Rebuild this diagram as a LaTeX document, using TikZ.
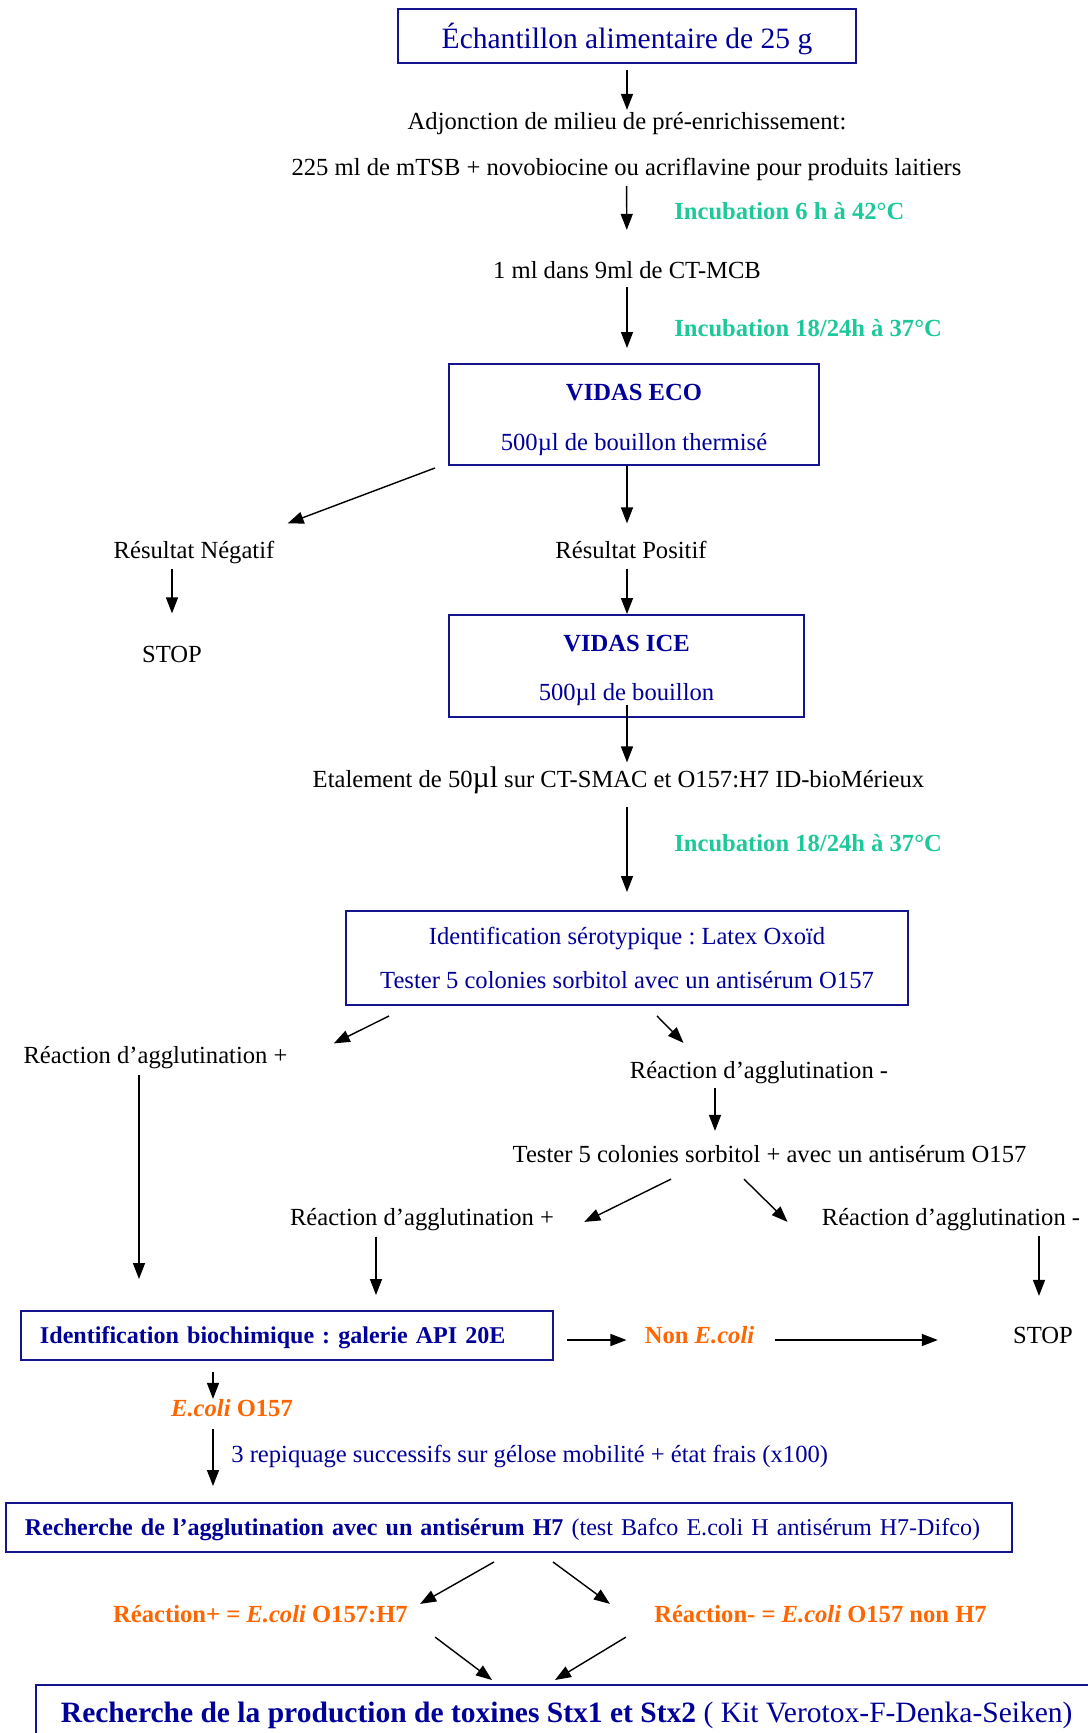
\documentclass[tikz,border=0pt]{standalone}
\usepackage{fontspec}
\setmainfont{Liberation Serif}
\usetikzlibrary{arrows.meta, calc}
\definecolor{navytext}{HTML}{000099}
\definecolor{boxblue}{HTML}{14148F}
\definecolor{incgreen}{HTML}{1DC99A}
\definecolor{ecoliorange}{HTML}{FF6600}

\begin{document}
\frenchspacing
\begin{tikzpicture}[
  every node/.style={font=\fontsize{14}{17}\selectfont},
  arrow/.style={-{Triangle[length=0.32cm, width=0.24cm]}, line width=0.8pt},
  lbl/.style={inner sep=0pt, text height=0.385cm, text depth=0.065cm},
  incub/.style={lbl, anchor=west, text=incgreen, font=\fontsize{14}{17}\selectfont\bfseries},
  result/.style={lbl, text=ecoliorange, font=\fontsize{14}{17}\selectfont\bfseries},
  stepbox/.style={draw=boxblue, line width=1.1pt, text=navytext, align=center, inner sep=0pt},
  widebox/.style={draw=boxblue, line width=1.1pt, text=navytext, align=left,
                  inner xsep=0.38cm, inner ysep=0pt, minimum height=0.98cm,
                  text height=0.385cm, text depth=0.065cm, font=\fontsize{13.7}{17}\selectfont},
]
  \path[use as bounding box, fill=white] (0,0) rectangle (21.76,-34.66);

  % Enrichment
  \node[stepbox, minimum width=9.16cm, minimum height=1.08cm, text height=0.61cm, text depth=0.13cm,
        font=\fontsize{16.8}{20}\selectfont]
    (sample) at (12.54,-0.72) {Échantillon alimentaire de 25 g};
  \node[lbl] (adj) at (12.54,-2.43) {Adjonction de milieu de pré-enrichissement:};
  \node[lbl] (mtsb) at (12.53,-3.34) {225 ml de mTSB + novobiocine ou acriflavine pour produits laitiers};
  \node[incub] (inc1) at (13.48,-4.22) {Incubation 6 h à 42°C};
  \node[lbl] (ctmcb) at (12.54,-5.40) {1 ml dans 9ml de CT-MCB};
  \node[incub] (inc2) at (13.48,-6.57) {Incubation 18/24h à 37°C};

  % VIDAS
  \node[stepbox, minimum width=7.40cm, minimum height=2.02cm, text height=1.563cm, text depth=0.107cm]
    (eco) at (12.68,-8.29) {\textbf{VIDAS ECO}\\[0.42cm]500µl de bouillon thermisé};
  \node[lbl] (neg) at (3.88,-11.01) {Résultat Négatif};
  \node[lbl] (pos) at (12.62,-11.01) {Résultat Positif};
  \node[lbl] (stopA) at (3.44,-13.09) {STOP};
  \node[stepbox, minimum width=7.10cm, minimum height=2.04cm, text height=1.503cm, text depth=0.107cm]
    (ice) at (12.53,-13.32) {\textbf{VIDAS ICE}\\[0.40cm]500µl de bouillon};
  \node[lbl] (etal) at (12.37,-15.59)
    {Etalement de 50{\fontsize{17}{20}\selectfont µl} sur CT-SMAC et O157:H7 ID-bioMérieux};
  \node[incub] (inc3) at (13.48,-16.87) {Incubation 18/24h à 37°C};

  % Serotyping
  \node[stepbox, minimum width=11.24cm, minimum height=1.88cm] (sero) at (12.54,-19.16)
    {Identification sérotypique : Latex Oxoïd\\[0.28cm]Tester 5 colonies sorbitol avec un antisérum O157};
  \node[lbl] (reacP1) at (3.11,-21.10) {Réaction d’agglutination +};
  \node[lbl] (reacM1) at (15.18,-21.41) {Réaction d’agglutination -};
  \node[lbl] (test5) at (15.39,-23.09) {Tester 5 colonies sorbitol + avec un antisérum O157};
  \node[lbl] (reacP2) at (8.44,-24.35) {Réaction d’agglutination +};
  \node[lbl] (reacM2) at (19.02,-24.35) {Réaction d’agglutination -};

  % Biochemistry
  \node[widebox, text width=9.88cm] (bio) at (5.74,-26.71)
    {\textbf{Identification biochimique : galerie API 20E}};
  \node[result] (nonE) at (13.99,-26.71) {Non \textit{E.coli}};
  \node[lbl] (stopB) at (20.86,-26.71) {STOP};
  \node[result] (ecoli) at (4.64,-28.17) {\textit{E.coli} O157};
  \node[lbl, anchor=west, text=navytext] (repiq) at (4.62,-29.08)
    {3 repiquage successifs sur gélose mobilité + état frais (x100)};

  % H7 and toxins
  \node[widebox, text width=19.36cm] (h7) at (10.18,-30.55)
    {\mbox{\textbf{Recherche de l’agglutination avec un antisérum H7} (test Bafco E.coli H antisérum H7-Difco)}};
  \node[result] (rP) at (5.21,-32.29) {Réaction+ = \textit{E.coli} O157:H7};
  \node[result] (rM) at (16.41,-32.29) {Réaction- = \textit{E.coli} O157 non H7};
  \node[stepbox, anchor=north west, inner xsep=0.5cm, inner ysep=0.34cm,
        text height=0.41cm, text depth=0.13cm, font=\fontsize{16.8}{20}\selectfont]
    (stx) at (0.70,-33.68)
    {\textbf{Recherche de la production de toxines Stx1 et Stx2} ( Kit Verotox-F-Denka-Seiken)};

  % Arrows
  \draw[arrow, shorten <=0.12cm] (sample) -- (adj);
  \draw[arrow, shorten <=0.15cm, shorten >=0.57cm] (mtsb) -- (ctmcb);
  \draw[arrow, shorten <=0.11cm, shorten >=0.30cm] (ctmcb.south) -- (ctmcb.south |- eco.north);
  \draw[arrow, shorten >=0.31cm] (eco.south -| sample) -- (pos.north -| sample);
  \draw[arrow] ($(eco.south west)+(-0.26,-0.04)$) -- ($(neg.north east)+(0.26,0.31)$);
  \draw[arrow, shorten <=0.13cm, shorten >=0.59cm] (neg.south -| stopA) -- (stopA.north);
  \draw[arrow, shorten <=0.13cm] (pos.south -| sample) -- (ice.north -| sample);
  \draw[arrow, shorten >=0.11cm] ($(ice.south -| sample)+(0,0.26)$) -- (etal.north -| sample);
  \draw[arrow, shorten <=0.31cm, shorten >=0.36cm] (etal.south -| sample) -- (sero.north -| sample);
  \draw[arrow] ($(sero.south west)+(0.88,-0.20)$) -- ($(reacP1.north east)+(0.92,0)$);
  \draw[arrow] ($(sero.south)+(0.60,-0.20)$) -- ($(reacM1.north west)+(1.08,0.32)$);
  \draw[arrow] ($(reacP1.south)+(-0.33,-0.17)$) -- ($(reacP1.south |- bio.north)+(-0.33,0.62)$);
  \draw[arrow] ($(reacM1.south)+(-0.88,-0.12)$) -- ($(reacM1.south |- test5.north)+(-0.88,0.24)$);
  \draw[arrow] ($(test5.south)+(-1.97,-0.26)$) -- ($(reacP2.north east)+(0.60,-0.32)$);
  \draw[arrow] ($(test5.south)+(-0.51,-0.26)$) -- ($(reacM2.north west)+(-0.68,-0.32)$);
  \draw[arrow] ($(reacP2.south)+(-0.92,-0.15)$) -- ($(reacP2.south |- bio.north)+(-0.92,0.30)$);
  \draw[arrow] ($(reacM2.south -| stopB)+(-0.08,-0.14)$) -- ($(stopB.north)+(-0.08,0.56)$);
  \draw[arrow, shorten <=0.26cm, shorten >=0.36cm] ($(bio.east)+(0,-0.09)$) -- ($(nonE.west)+(0,-0.09)$);
  \draw[arrow, shorten <=0.40cm, shorten >=1.50cm] ($(nonE.east)+(0,-0.09)$) -- ($(stopB.west)+(0,-0.09)$);
  \draw[arrow] ($(bio.south -| ecoli)+(-0.38,-0.22)$) -- ($(ecoli.north)+(-0.38,-0.04)$);
  \draw[arrow] ($(ecoli.south)+(-0.38,-0.18)$) -- ($(ecoli.south |- h7.north)+(-0.38,0.32)$);
  \draw[arrow] ($(h7.south)+(-0.30,-0.18)$) -- ($(rP.north east)+(0.24,-0.02)$);
  \draw[arrow] ($(h7.south)+(0.88,-0.18)$) -- ($(rM.north west)+(-0.88,-0.02)$);
  \draw[arrow] ($(rP.south east)+(0.54,-0.22)$) -- ($(stx.north west)+(9.14,0.08)$);
  \draw[arrow] ($(rM.south west)+(-0.56,-0.22)$) -- ($(stx.north west)+(10.40,0.08)$);
\end{tikzpicture}
\end{document}
